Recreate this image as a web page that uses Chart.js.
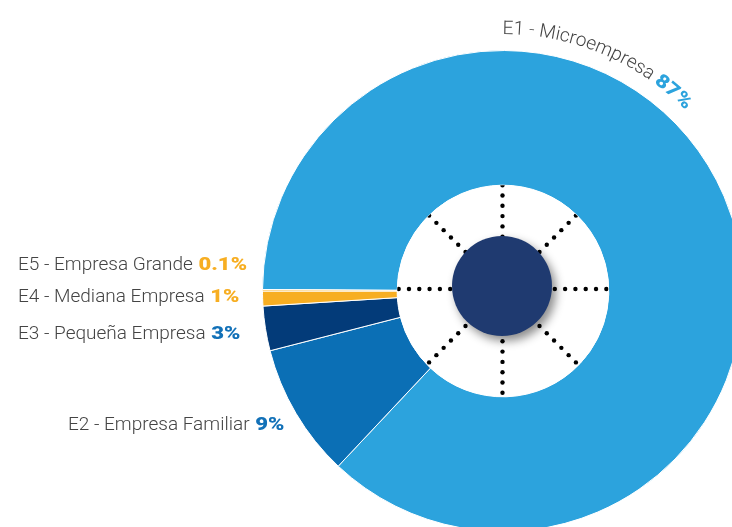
<!DOCTYPE html>
<html>
<head>
<meta charset="utf-8">
<script src="https://cdn.jsdelivr.net/npm/chart.js@4"></script>
<style>
  html, body { margin: 0; padding: 0; background: #fff; overflow: hidden; }
  #wrap { position: absolute; left: 0; top: 0; width: 800px; height: 600px; }
</style>
</head>
<body>
<div id="wrap"><canvas id="empresas" width="800" height="600"></canvas></div>
<script>
// data
const categories = ["E1", "E2", "E3", "E4", "E5"];
const names = ["Microempresa", "Empresa Familiar", "Pequeña Empresa", "Mediana Empresa", "Empresa Grande"];
const values = [87, 9, 3, 1, 0.1];
const pctLabels = ["87%", "9%", "3%", "1%", "0.1%"];

const sliceColors = ["#2ca3dd", "#0b6fb5", "#033b79", "#f7ae22", "#f7ae22"];
const pctColors = ["#2ca3dd", "#1271b8", "#1271b8", "#f7ae22", "#f7ae22"];

const NAME_FONT = "300 19px Roboto";
const PCT_FONT = "900 19px Roboto";
const PCT_STRETCH = 1.16; // the percent figures are wider than Roboto

// where the straight labels go (E5, E4, E3, E2)
const labelPos = {
    E5: [18, 270],
    E4: [18, 302],
    E3: [18, 339],
    E2: [68, 430]
};

function drawLabel(ctx, x, y, i) {
    let txt = categories[i] + " - " + names[i] + " ";
    ctx.font = NAME_FONT;
    ctx.fillStyle = "#444";
    ctx.textBaseline = "alphabetic";
    ctx.textAlign = "left";
    ctx.fillText(txt, x, y);
    let w = ctx.measureText(txt).width;
    ctx.save();
    ctx.font = PCT_FONT;
    ctx.fillStyle = pctColors[i];
    ctx.translate(x + w + 1, y);
    ctx.scale(PCT_STRETCH, 1);
    ctx.fillText(pctLabels[i], 0, 0);
    ctx.restore();
}

// writes text along a circle, clockwise, starting at angle a0 (radians from top)
function arcText(ctx, cx, cy, r, a0, pieces) {
    let a = a0;
    for (const p of pieces) {
        ctx.font = p.font;
        ctx.fillStyle = p.color;
        let sx = p.stretch || 1;
        for (const ch of p.text) {
            let w = ctx.measureText(ch).width * sx;
            let mid = a + (w / 2) / r;
            ctx.save();
            ctx.translate(cx + r * Math.sin(mid), cy - r * Math.cos(mid));
            ctx.rotate(mid);
            ctx.scale(sx, 1);
            ctx.textAlign = "center";
            ctx.fillText(ch, 0, 0);
            ctx.restore();
            a += w / r;
        }
    }
}

const hubPlugin = {
    id: "hub",
    afterDatasetsDraw(chart) {
        const ctx = chart.ctx;
        const arc = chart.getDatasetMeta(0).data[0];
        const cx = arc.x, cy = arc.y;
        const inner = arc.innerRadius;

        ctx.save();
        ctx.beginPath();
        ctx.arc(cx, cy, inner, 0, Math.PI * 2);
        ctx.fillStyle = "#fff";
        ctx.fill();
        ctx.clip();

        // dotted spokes
        ctx.fillStyle = "#000";
        for (let k = 0; k < 8; k++) {
            let ang = k * Math.PI / 4;
            for (let r = inner - 2; r > 30; r -= 10.3) {
                ctx.beginPath();
                ctx.arc(cx - 0.5 + r * Math.cos(ang), cy - 2 + r * Math.sin(ang), 2.2, 0, Math.PI * 2);
                ctx.fill();
            }
        }
        ctx.restore();

        // navy hub with shadow
        ctx.save();
        ctx.shadowColor = "rgba(0,0,0,0.45)";
        ctx.shadowBlur = 10;
        ctx.shadowOffsetX = 4;
        ctx.shadowOffsetY = 5;
        ctx.beginPath();
        ctx.arc(cx - 1, cy - 5, 50, 0, Math.PI * 2);
        ctx.fillStyle = "#1f3a70";
        ctx.fill();
        ctx.restore();
    },
    afterDraw(chart) {
        const ctx = chart.ctx;
        const arc = chart.getDatasetMeta(0).data[0];
        ctx.save();
        drawLabel(ctx, labelPos.E5[0], labelPos.E5[1], 4);
        drawLabel(ctx, labelPos.E4[0], labelPos.E4[1], 3);
        drawLabel(ctx, labelPos.E3[0], labelPos.E3[1], 2);
        drawLabel(ctx, labelPos.E2[0], labelPos.E2[1], 1);

        arcText(ctx, arc.x, arc.y, 257, -0.002, [
            { text: categories[0] + " - " + names[0] + " ", font: NAME_FONT, color: "#444" },
            { text: pctLabels[0], font: PCT_FONT, color: pctColors[0], stretch: PCT_STRETCH }
        ]);
        ctx.restore();
    }
};

const total = values.reduce((s, v) => s + v, 0);
const lastShare = values[values.length - 1] / total * 360;

new Chart(document.getElementById("empresas"), {
    type: "doughnut",
    data: {
        labels: categories.map((c, i) => c + " - " + names[i]),
        datasets: [{
            data: values,
            backgroundColor: sliceColors,
            borderColor: "#fff",
            borderWidth: 1
        }]
    },
    options: {
        responsive: false,
        animation: false,
        cutout: "44%",
        rotation: -90 + lastShare,
        layout: { padding: { left: 262, top: 50, right: 56, bottom: 68 } },
        plugins: {
            legend: { display: false },
            tooltip: { enabled: false }
        }
    },
    plugins: [hubPlugin]
});
</script>
</body>
</html>
